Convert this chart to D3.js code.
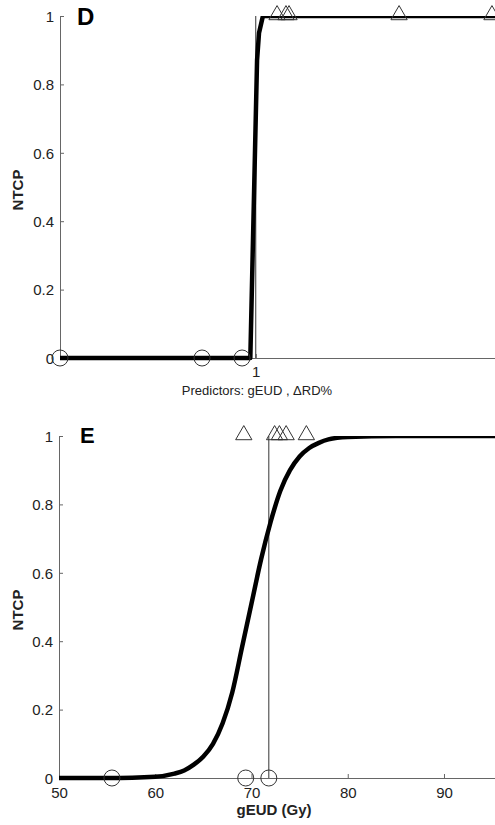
<!DOCTYPE html>
<html><head><meta charset="utf-8">
<script src="https://cdn.jsdelivr.net/npm/d3@7/dist/d3.min.js"></script>
<style>body{margin:0;background:#fff}svg{display:block}text{font-family:"Liberation Sans",Arial,sans-serif}</style>
</head><body>
<svg id="c" width="495" height="825"></svg>
<script>
// ---- Panel D data ----
const dCurveX = [0.91, 0.9975, 1.0006, 1.0015, 1.0033, 1.11];
const dCurveY = [0, 0, 0.87, 0.95, 1, 1];
const dCircles = [0.91, 0.9753, 0.9937];      // NTCP = 0 observations
const dTriangles = [1.0098, 1.0139, 1.0153, 1.0659, 1.1086]; // NTCP = 1 observations
const dCut = 1.0;
const dXTicks = [1];
// ---- Panel E data ----
const eCurveX = [50, 55, 60, 62, 63, 64, 65, 66, 67, 68, 69, 70, 71, 72, 73, 74, 75, 76, 77, 78, 80, 85, 90, 95.3];
const eCurveY = [0, 0.0003, 0.004, 0.013, 0.022, 0.039, 0.063, 0.10, 0.16, 0.25, 0.38, 0.51, 0.64, 0.75, 0.84, 0.90, 0.94, 0.965, 0.98, 0.99, 0.997, 1, 1, 1];
const eCircles = [55.5, 69.4, 71.8];
const eTriangles = [69.2, 72.4, 72.9, 73.6, 75.7];
const eCut = 71.8;
const eXTicks = [50, 60, 70, 80, 90];
const yTicks = [0, 0.2, 0.4, 0.6, 0.8, 1];
const yTickLabels = ["0", "0.2", "0.4", "0.6", "0.8", "1"];

const svg = d3.select("#c");
const axisCol = "#666", txtCol = "#222";

function panel(cfg) {
  const g = svg.append("g");
  const x = cfg.x, y = cfg.y;
  const [x0, x1] = x.range(), [yb, yt] = y.range();
  const clipId = "clip" + cfg.letter;
  svg.append("clipPath").attr("id", clipId).append("rect")
    .attr("x", x0 - 20).attr("y", yt).attr("width", x1 - x0 + 40).attr("height", yb - yt + 20);

  // y axis
  const ya = d3.axisRight(y).tickValues(yTicks).tickFormat((d, i) => yTickLabels[i]).tickSize(4).tickSizeOuter(0);
  const yg = g.append("g").attr("transform", `translate(${x0},0)`).call(ya);
  yg.select(".domain").attr("stroke", axisCol);
  yg.selectAll(".tick line").attr("stroke", axisCol);
  yg.selectAll(".tick text").attr("x", -6).attr("text-anchor", "end").attr("fill", txtCol)
    .style("font-size", "15px").attr("dy", "0.35em");

  // x axis
  const xa = d3.axisTop(x).tickValues(cfg.xTicks).tickFormat(d3.format("d")).tickSize(4).tickSizeOuter(0);
  const xg = g.append("g").attr("transform", `translate(0,${yb})`).call(xa);
  xg.select(".domain").attr("stroke", axisCol);
  xg.selectAll(".tick line").attr("stroke", axisCol);
  xg.selectAll(".tick text").attr("y", cfg.xLabY).attr("fill", txtCol).style("font-size", "15px").attr("dy", 0);

  // vertical cutoff line
  g.append("line").attr("x1", x(cfg.cut)).attr("x2", x(cfg.cut)).attr("y1", y(0)).attr("y2", y(1))
    .attr("stroke", "#333").attr("stroke-width", 1);

  // curve
  const pts = cfg.cx.map((v, i) => [v, cfg.cy[i]]);
  g.append("path").datum(pts).attr("clip-path", `url(#${clipId})`)
    .attr("d", d3.line().x(d => x(d[0])).y(d => y(d[1])).curve(cfg.curve))
    .attr("fill", "none").attr("stroke", "#000").attr("stroke-width", 4.5).attr("stroke-linejoin", "round");

  // circles
  g.selectAll(".circ").data(cfg.circles).enter().append("circle")
    .attr("cx", d => x(d)).attr("cy", y(0)).attr("r", 8)
    .attr("fill", "none").attr("stroke", "#333").attr("stroke-width", 1);
  // triangles
  const tri = d3.symbol().type(d3.symbolTriangle).size(115);
  g.selectAll(".tri").data(cfg.triangles).enter().append("path")
    .attr("d", tri).attr("transform", d => `translate(${x(d)},${y(1) - 1})`)
    .attr("fill", "none").attr("stroke", "#333").attr("stroke-width", 1);

  // letter
  g.append("text").attr("x", cfg.letterX).attr("y", cfg.letterY).text(cfg.letter)
    .style("font-size", cfg.letterSize + "px").style("font-weight", "bold").attr("fill", "#000");
  // y label
  g.append("text").attr("transform", `translate(23,${cfg.ntcpY}) rotate(-90)`).attr("text-anchor", "middle")
    .text("NTCP").style("font-size", "15px").style("font-weight", "bold").attr("fill", txtCol);
  // x label
  g.append("text").attr("x", cfg.xTitleX).attr("y", cfg.xTitleY).attr("text-anchor", "middle")
    .text(cfg.xTitle).style("font-size", cfg.xTitleSize + "px").style("font-weight", cfg.xTitleWeight).attr("fill", txtCol);
}

panel({
  letter: "D", letterX: 77, letterY: 25, letterSize: 24,
  x: d3.scaleLinear().domain([0.91, 1.11]).range([60, 495]),
  y: d3.scaleLinear().domain([0, 1]).range([358, 16]),
  xTicks: dXTicks, xLabY: 19, cut: dCut,
  cx: dCurveX, cy: dCurveY, curve: d3.curveLinear,
  circles: dCircles, triangles: dTriangles,
  ntcpY: 190, xTitle: "Predictors: gEUD , \u0394RD%", xTitleX: 257, xTitleY: 395, xTitleSize: 13, xTitleWeight: "normal"
});
panel({
  letter: "E", letterX: 80, letterY: 443, letterSize: 22,
  x: d3.scaleLinear().domain([50, 95.3]).range([59, 495]),
  y: d3.scaleLinear().domain([0, 1]).range([778, 436]),
  xTicks: eXTicks, xLabY: 20, cut: eCut,
  cx: eCurveX, cy: eCurveY, curve: d3.curveMonotoneX,
  circles: eCircles, triangles: eTriangles,
  ntcpY: 610, xTitle: "gEUD (Gy)", xTitleX: 274, xTitleY: 815, xTitleSize: 15, xTitleWeight: "bold"
});
</script>
</body></html>
